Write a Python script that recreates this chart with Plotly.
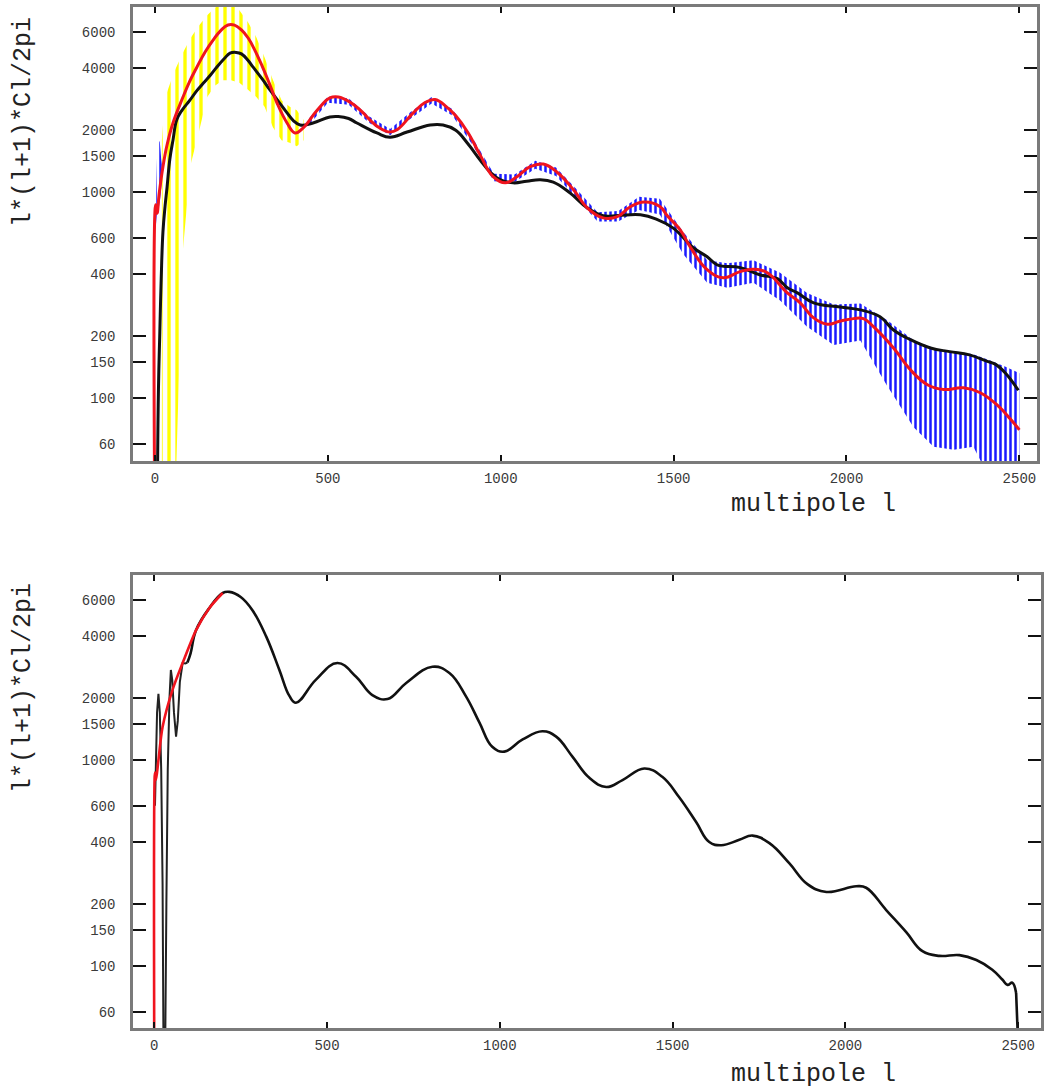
import math
import plotly.graph_objects as go

W, H = 1044, 1088

# ---------------- data ----------------
# top panel: red curve
top_red_l = [1, 2, 6, 12, 23, 35, 52, 81, 100, 121, 145, 168, 190, 211, 230, 250, 270, 290, 310, 330,
             353, 382, 405, 428, 469, 506, 530, 564, 600, 622, 650, 680, 700, 747, 780, 810, 844, 870,
             905, 941, 978, 1013, 1047, 1085, 1123, 1163, 1210, 1250, 1296, 1337, 1375, 1415, 1461,
             1481, 1519, 1548, 1597, 1644, 1692, 1731, 1771, 1829, 1866, 1905, 1945, 1980, 2020, 2049,
             2078, 2136, 2185, 2234, 2281, 2338, 2387, 2437, 2474, 2500]
top_red_v = [10, 870, 790, 980, 1330, 1700, 2170, 2900, 3450, 4050, 4800, 5480, 6100, 6490, 6480, 6150,
             5600, 4850, 4100, 3400, 2710, 2170, 1940, 2050, 2500, 2870, 2900, 2740, 2450, 2240, 2050,
             1960, 2010, 2430, 2720, 2820, 2590, 2350, 1950, 1510, 1190, 1110, 1190, 1330, 1370, 1250,
             1030, 840, 750, 760, 850, 895, 850, 770, 656, 542, 420, 384, 411, 422, 406, 324, 290, 245,
             228, 236, 243, 243, 222, 175, 137, 116, 110, 112, 106, 92, 79, 70]

# top panel: black curve
top_black_l = [6, 10, 14, 18, 23, 29, 35, 43, 52, 63, 78, 101, 120, 140, 160, 179, 200, 217, 235, 250,
               270, 284, 310, 333, 358, 382, 400, 420, 457, 506, 530, 560, 584, 642, 680, 729, 796, 833,
               870, 905, 941, 970, 998, 1036, 1075, 1114, 1152, 1201, 1250, 1296, 1340, 1404, 1450,
               1499, 1557, 1597, 1626, 1693, 1751, 1800, 1829, 1858, 1905, 1982, 2040, 2097, 2136, 2185,
               2243, 2298, 2356, 2405, 2430, 2460, 2497]
top_black_v = [20, 110, 210, 380, 640, 850, 1060, 1450, 1790, 2250, 2500, 2800, 3100, 3390, 3700, 4060,
               4450, 4740, 4780, 4700, 4350, 4050, 3550, 3130, 2750, 2430, 2230, 2120, 2170, 2320, 2330,
               2280, 2170, 1940, 1850, 1960, 2120, 2120, 2000, 1720, 1430, 1250, 1150, 1110, 1130, 1150,
               1120, 990, 840, 768, 770, 776, 740, 669, 537, 486, 444, 430, 396, 380, 343, 324, 290, 277,
               268, 248, 214, 192, 175, 168, 162, 151, 146, 132, 109]

# top panel: yellow oscillating series (envelope of its swings)
yellow_l = [20, 29, 55, 80, 103, 128, 151, 174, 197, 220, 244, 269, 293, 317, 341, 366, 390, 410, 430]
yellow_hi = [1800, 2870, 3830, 4740, 5610, 6480, 7250, 7900, 8200, 8200, 7650, 6700, 5670, 4510, 3510,
             2800, 2600, 2500, 2240]
yellow_lo = [10, 10, 20, 508, 1360, 2000, 2900, 3300, 3500, 3500, 3400, 3150, 2900, 2600, 2070, 1790,
             1740, 1670, 1790]

# top panel: blue oscillating series (envelope of its swings)
blue_spike_l = [3, 6, 10, 14, 18, 22]
blue_spike_hi = [1000, 1500, 1800, 1750, 1450, 1300]
blue_spike_lo = [700, 780, 820, 900, 1050, 1200]

blue_l = [440, 500, 560, 620, 680, 740, 800, 860, 920, 980, 1040, 1100, 1160, 1220, 1280, 1340, 1400,
          1460, 1528, 1597, 1655, 1731, 1808, 1886, 1963, 2040, 2117, 2194, 2252, 2310, 2367, 2416,
          2460, 2500]
blue_hi = [2230, 2920, 2860, 2330, 2030, 2460, 2900, 2540, 1820, 1230, 1220, 1420, 1320, 1030, 800, 810,
           950, 930, 640, 467, 452, 467, 406, 324, 285, 288, 239, 191, 175, 168, 163, 152, 142, 132]
blue_lo = [2070, 2720, 2660, 2170, 1890, 2280, 2700, 2360, 1680, 1130, 1120, 1300, 1200, 930, 720, 720,
           820, 780, 500, 363, 343, 363, 298, 222, 181, 190, 115, 72, 58, 56, 58, 40, 30, 30]

# bottom panel
bot_red_l = [1, 2, 5, 12, 24, 53, 82, 121, 159, 198]
bot_red_v = [10, 870, 800, 1000, 1450, 2200, 2960, 4280, 5470, 6480]

bot_black_low_l = [2, 5, 8, 12, 16, 20, 24, 27, 31, 35, 39, 44, 48, 52, 57, 63, 68, 74, 82, 90, 96]
bot_black_low_v = [600, 1100, 1700, 2100, 1700, 900, 250, 30, 30, 200, 900, 2000, 2740, 2450, 1700,
                   1300, 1550, 2400, 2960, 2950, 2980]

bot_black_l = [96, 105, 121, 159, 198, 217, 250, 284, 324, 362, 391, 410, 468, 530, 584, 631, 675, 729,
               805, 854, 902, 941, 978, 1013, 1066, 1123, 1163, 1210, 1259, 1308, 1355, 1418, 1470,
               1519, 1568, 1606, 1641, 1693, 1731, 1780, 1838, 1890, 1945, 2031, 2060, 2118, 2176, 2223,
               2272, 2330, 2379, 2425, 2454, 2469, 2483, 2494]
bot_black_v = [2980, 3300, 4280, 5470, 6480, 6560, 6200, 5350, 3980, 2740, 2050, 1900, 2460, 2960, 2540,
               2070, 1980, 2370, 2840, 2650, 2040, 1520, 1160, 1100, 1260, 1380, 1300, 1040, 820, 740,
               800, 910, 830, 660, 500, 400, 386, 410, 430, 395, 315, 250, 229, 244, 240, 187, 146, 118,
               112, 113, 107, 96, 86, 81, 83, 74]
bot_black_end_l = [2494, 2498, 2500]
bot_black_end_v = [74, 50, 10]

y_tickvals = [60, 100, 150, 200, 400, 600, 1000, 1500, 2000, 4000, 6000]
x_tickvals = [0, 500, 1000, 1500, 2000, 2500]
y_title = "l*(l+1)*Cl/2pi"
x_title = "multipole l"


def band(l, hi, lo):
    return list(l) + list(l)[::-1], list(hi) + list(lo)[::-1]


fig = go.Figure()

# ---- top panel ----
bx, by = band(yellow_l, yellow_hi, yellow_lo)
fig.add_trace(go.Scatter(x=bx, y=by, mode="none", fill="toself", fillcolor="rgba(0,0,0,0)",
                         fillpattern=dict(shape="|", fgcolor="#ffff00", bgcolor="rgba(0,0,0,0)",
                                          size=8, solidity=0.42, fgopacity=1),
                         xaxis="x", yaxis="y", hoverinfo="skip"))
for (ll, hh, lo) in [(blue_spike_l, blue_spike_hi, blue_spike_lo), (blue_l, blue_hi, blue_lo)]:
    bx, by = band(ll, hh, lo)
    fig.add_trace(go.Scatter(x=bx, y=by, mode="none", fill="toself", fillcolor="rgba(0,0,0,0)",
                             fillpattern=dict(shape="|", fgcolor="#1a1aff", bgcolor="rgba(0,0,0,0)",
                                              size=5, solidity=0.5, fgopacity=1),
                             xaxis="x", yaxis="y", hoverinfo="skip"))
fig.add_trace(go.Scatter(x=top_black_l, y=top_black_v, mode="lines",
                         line=dict(color="#111111", width=3, shape="spline", smoothing=1.2),
                         xaxis="x", yaxis="y"))
fig.add_trace(go.Scatter(x=top_red_l, y=top_red_v, mode="lines",
                         line=dict(color="#f0141e", width=3, shape="spline", smoothing=1.2),
                         xaxis="x", yaxis="y"))

# ---- bottom panel ----
fig.add_trace(go.Scatter(x=bot_black_low_l, y=bot_black_low_v, mode="lines",
                         line=dict(color="#222222", width=2), xaxis="x2", yaxis="y2"))
fig.add_trace(go.Scatter(x=bot_black_l, y=bot_black_v, mode="lines",
                         line=dict(color="#111111", width=2.6, shape="spline", smoothing=1.2),
                         xaxis="x2", yaxis="y2"))
fig.add_trace(go.Scatter(x=bot_black_end_l, y=bot_black_end_v, mode="lines",
                         line=dict(color="#111111", width=2.6), xaxis="x2", yaxis="y2"))
fig.add_trace(go.Scatter(x=bot_red_l, y=bot_red_v, mode="lines",
                         line=dict(color="#f0141e", width=2.6, shape="spline", smoothing=0.8),
                         xaxis="x2", yaxis="y2"))

tickfont = dict(family="Liberation Mono", size=14, color="#3a3a3a")
common_x = dict(tickmode="array", tickvals=x_tickvals, ticktext=[str(v) for v in x_tickvals],
                ticks="inside", ticklen=6, tickwidth=1.5, tickcolor="#111111",
                showline=True, linecolor="#7a7a7a", linewidth=2.5, mirror="ticks",
                showgrid=False, zeroline=False, tickfont=tickfont, ticklabelstandoff=2)
common_y = dict(type="log", tickmode="array", tickvals=y_tickvals, ticktext=[str(v) for v in y_tickvals],
                ticks="inside", ticklen=13, tickwidth=1.5, tickcolor="#111111",
                showline=True, linecolor="#7a7a7a", linewidth=2.5, mirror="ticks",
                showgrid=False, zeroline=False, tickfont=tickfont, ticklabelstandoff=12)

fig.update_layout(
    width=W, height=H, margin=dict(l=0, r=0, t=0, b=0),
    paper_bgcolor="white", plot_bgcolor="white", showlegend=False,
    xaxis=dict(domain=[133 / W, 1037 / W], range=[-63.6, 2551], anchor="y", **common_x),
    yaxis=dict(domain=[1 - 461 / H, 1 - 7 / H], range=[math.log10(49.4), math.log10(7943)],
               anchor="x", **common_y),
    xaxis2=dict(domain=[133 / W, 1041 / W], range=[-61.6, 2566], anchor="y2", **common_x),
    yaxis2=dict(domain=[1 - 1028 / H, 1 - 575 / H], range=[math.log10(50.0), math.log10(7925)],
                anchor="x2", **common_y),
)

title_font = dict(family="Liberation Mono", size=25, color="#222222")
for yc in (122, 688):
    fig.add_annotation(x=23 / W, y=1 - yc / H, xref="paper", yref="paper", text=y_title,
                       textangle=-90, showarrow=False, font=title_font,
                       xanchor="center", yanchor="middle")
for yc in (505, 1074):
    fig.add_annotation(x=813 / W, y=1 - yc / H, xref="paper", yref="paper", text=x_title,
                       showarrow=False, font=title_font, xanchor="center", yanchor="middle")

fig.write_html("out.html")
